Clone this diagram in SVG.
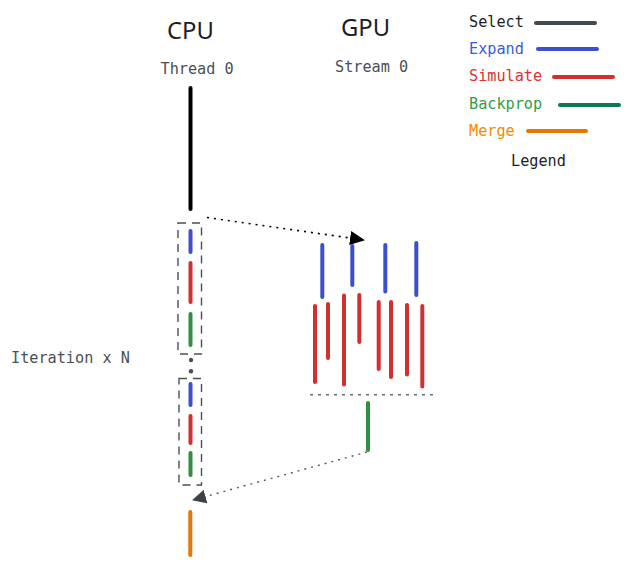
<svg xmlns="http://www.w3.org/2000/svg" width="628" height="565" viewBox="0 0 628 565">
<defs>
<style>
.mono{font-family:"DejaVu Sans Mono","Liberation Mono",monospace;font-size:15.2px}
.head{font-family:"Noto Sans","Liberation Sans",sans-serif;font-size:23.8px;fill:#1e1e1e}
.gray{fill:#495057}
.bar{stroke-width:4;stroke-linecap:round;fill:none}
.blue{stroke:#3b4fd0}
.red{stroke:#d32f2f}
.green{stroke:#2f8f3f}
.orange{stroke:#e67700}
.box{fill:none;stroke:#495057;stroke-width:1.4;stroke-dasharray:8 6}
</style>
<marker id="ahBlack" markerWidth="15" markerHeight="15" refX="14" refY="7.5" orient="auto" markerUnits="userSpaceOnUse" viewBox="0 0 15 15">
<path d="M0,0.5 L15,7.5 L0,14.5 z" fill="#000"/>
</marker>
<marker id="ahGray" markerWidth="14" markerHeight="14" refX="13" refY="7" orient="auto" markerUnits="userSpaceOnUse" viewBox="0 0 14 14">
<path d="M0,0 L14,7 L0,14 z" fill="#3d4148"/>
</marker>
</defs>
<rect width="628" height="565" fill="#fff"/>

<g id="titles">
<text class="head" x="167" y="38.5">CPU</text>
<text class="head" x="341" y="36">GPU</text>
<text class="mono gray" x="160.5" y="73.5">Thread 0</text>
<text class="mono gray" x="335" y="71.5">Stream 0</text>
<text class="mono gray" x="11" y="362.5">Iteration x N</text>
</g>

<g id="legend">
<text class="mono" x="469" y="27" fill="#1e1e1e">Select</text>
<line x1="536" y1="23" x2="595" y2="23" stroke="#454a50" stroke-width="4" stroke-linecap="round"/>
<text class="mono" x="469" y="54" fill="#3b5bdb">Expand</text>
<line x1="538" y1="49" x2="597" y2="49" stroke="#3b4fcf" stroke-width="4" stroke-linecap="round"/>
<text class="mono" x="469" y="81" fill="#e03131">Simulate</text>
<line x1="554" y1="77" x2="613" y2="77" stroke="#d32f2f" stroke-width="4" stroke-linecap="round"/>
<text class="mono" x="469" y="109" fill="#2f9e44">Backprop</text>
<line x1="560" y1="105" x2="619" y2="105" stroke="#0b7a55" stroke-width="4" stroke-linecap="round"/>
<text class="mono" x="469" y="136" fill="#f08c00">Merge</text>
<line x1="528" y1="131" x2="586" y2="131" stroke="#e67700" stroke-width="4" stroke-linecap="round"/>
<text class="mono" x="511" y="166" fill="#1e1e1e">Legend</text>
</g>

<g id="cpu-thread">
<line x1="190.5" y1="88" x2="190.5" y2="209" stroke="#000" stroke-width="4" stroke-linecap="round"/>
</g>

<g id="iteration-1">
<rect class="box" x="178" y="223" width="23.5" height="131"/>
<line class="bar blue" x1="190.5" y1="231" x2="190.5" y2="252"/>
<line class="bar red" x1="190.5" y1="263" x2="190.5" y2="302"/>
<line class="bar green" x1="190.5" y1="314" x2="190.5" y2="345"/>
</g>

<g id="ellipsis">
<circle cx="191" cy="360" r="2.2" fill="#495057"/>
<circle cx="191" cy="371.3" r="2.2" fill="#495057"/>
</g>

<g id="iteration-n">
<rect class="box" x="179" y="378.5" width="22.5" height="106.5"/>
<line class="bar blue" x1="190.5" y1="384" x2="190.5" y2="405"/>
<line class="bar red" x1="190.5" y1="416" x2="190.5" y2="443"/>
<line class="bar green" x1="190.5" y1="453" x2="190.5" y2="475"/>
</g>

<g id="merge">
<line class="bar orange" x1="190.3" y1="512" x2="190.3" y2="555"/>
</g>

<g id="gpu-expand">
<line class="bar blue" x1="322.3" y1="245" x2="322.3" y2="297"/>
<line class="bar blue" x1="352.3" y1="246" x2="352.3" y2="285"/>
<line class="bar blue" x1="385.3" y1="245" x2="385.3" y2="291.5"/>
<line class="bar blue" x1="416.3" y1="243" x2="416.3" y2="295"/>
</g>

<g id="gpu-simulate">
<line class="bar red" x1="315" y1="306" x2="315" y2="382"/>
<line class="bar red" x1="328" y1="304" x2="328" y2="358"/>
<line class="bar red" x1="344" y1="295.5" x2="344" y2="384.5"/>
<line class="bar red" x1="359.3" y1="295" x2="359.3" y2="342"/>
<line class="bar red" x1="378.7" y1="302" x2="378.7" y2="369"/>
<line class="bar red" x1="391" y1="302" x2="391" y2="377"/>
<line class="bar red" x1="407" y1="305" x2="407" y2="374.5"/>
<line class="bar red" x1="422.3" y1="306" x2="422.3" y2="386.5"/>
</g>

<g id="gpu-sync">
<line x1="310" y1="394.7" x2="433" y2="394.7" stroke="#6c7075" stroke-width="1.5" stroke-dasharray="3 5"/>
</g>

<g id="gpu-backprop">
<line class="bar green" x1="368" y1="403" x2="368" y2="450"/>
</g>

<g id="connectors">
<line x1="207" y1="217.5" x2="364" y2="240" stroke="#000" stroke-width="1.6" stroke-dasharray="2 5" marker-end="url(#ahBlack)"/>
<line x1="367" y1="452" x2="193" y2="500" stroke="#555a60" stroke-width="1.4" stroke-dasharray="2 5" marker-end="url(#ahGray)"/>
</g>
</svg>
